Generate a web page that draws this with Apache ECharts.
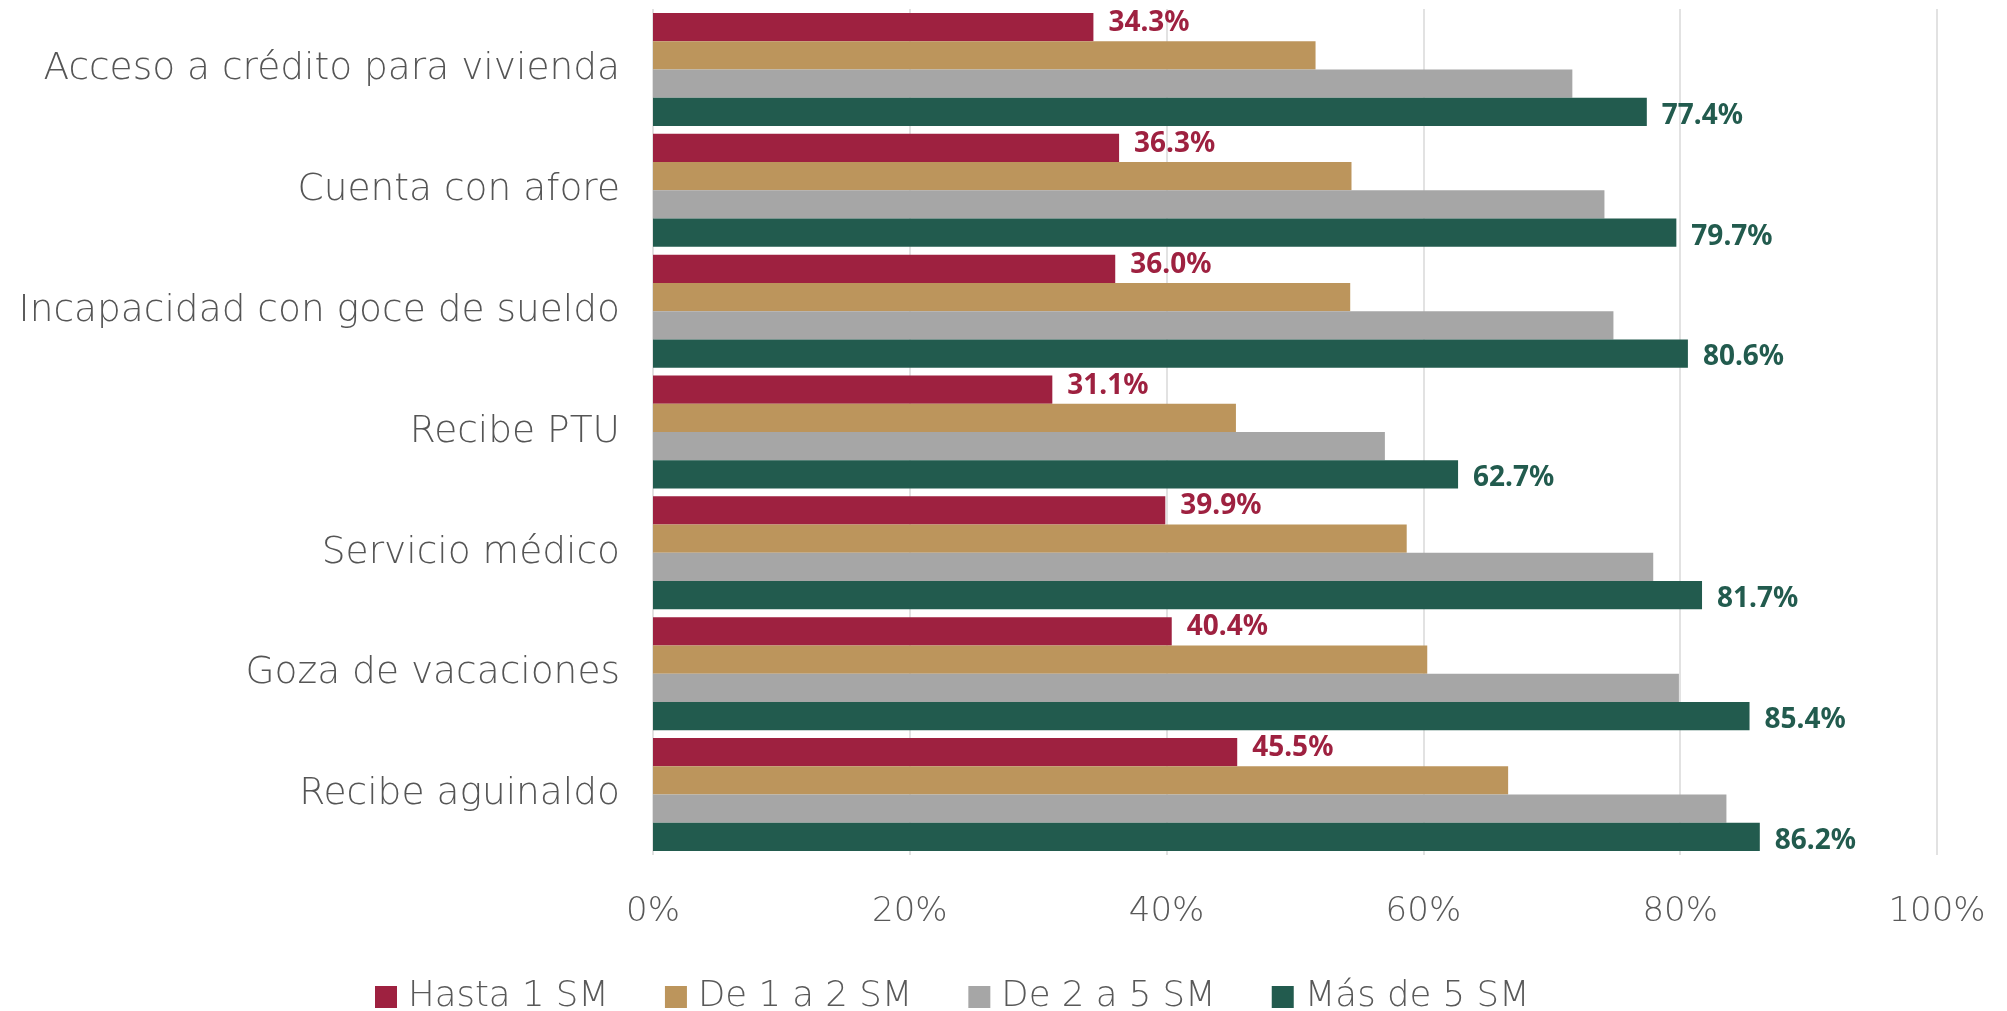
<!DOCTYPE html>
<html>
<head>
<meta charset="utf-8">
<script src="https://cdn.jsdelivr.net/npm/echarts@6/dist/echarts.min.js"></script>
<style>
html, body { margin: 0; padding: 0; background: #ffffff; }
#main { width: 2007px; height: 1011px; }
</style>
</head>
<body>
<div id="main"></div>
<script>
// categories, top to bottom
let categories = ['Acceso a crédito para vivienda', 'Cuenta con afore', 'Incapacidad con goce de sueldo', 'Recibe PTU', 'Servicio médico', 'Goza de vacaciones', 'Recibe aguinaldo']
let seriesNames = ['Hasta 1 SM', 'De 1 a 2 SM', 'De 2 a 5 SM', 'Más de 5 SM']
let hasta1 = [34.3, 36.3, 36.0, 31.1, 39.9, 40.4, 45.5]
let de1a2 = [51.6, 54.4, 54.3, 45.4, 58.7, 60.3, 66.6]
let de2a5 = [71.6, 74.1, 74.8, 57.0, 77.9, 79.9, 83.6]
let mas5 = [77.4, 79.7, 80.6, 62.7, 81.7, 85.4, 86.2]
let xTicks = [0, 20, 40, 60, 80, 100]

let myColor = ['#9E2140', '#BC955C', '#A6A6A6', '#225B4E']
let values = [hasta1, de1a2, de2a5, mas5]
let labelled = [true, false, false, true]
let labelOffset = [[0, -4], [0, 0], [0, 0], [0, 4]]

let font = '"DejaVu Sans", sans-serif'
let boldFont = '"Noto Sans", sans-serif'

let series = seriesNames.map(function (name, i) {
    return {
        name: name,
        type: 'bar',
        data: values[i],
        barGap: '0%',
        barCategoryGap: '6.5%',
        itemStyle: { color: myColor[i] },
        label: {
            show: labelled[i],
            position: 'right',
            distance: 15,
            offset: labelOffset[i],
            formatter: function (p) { return p.value.toFixed(1) + '%' },
            color: myColor[i],
            fontFamily: boldFont,
            fontWeight: 'bold',
            fontSize: 28,
        },
    }
})

let option = {
    backgroundColor: '#ffffff',
    animation: false,
    grid: {
        left: 653,
        right: 70,
        top: 9,
        bottom: 156,
    },
    legend: {
        data: seriesNames,
        left: 370,
        top: 974,
        icon: 'rect',
        itemWidth: 22,
        itemHeight: 22,
        itemGap: 56,
        textStyle: {
            fontFamily: font,
            fontSize: 35.5,
            fontWeight: 300,
            color: '#595959',
            padding: [0, 0, 0, 6],
        },
    },
    xAxis: {
        type: 'value',
        min: xTicks[0],
        max: xTicks[xTicks.length - 1],
        interval: xTicks[1] - xTicks[0],
        axisLine: { show: false },
        axisTick: { show: false },
        splitLine: { show: true, lineStyle: { color: '#D9D9D9', width: 1.5 } },
        axisLabel: {
            formatter: '{value}%',
            margin: 40,
            fontFamily: font,
            fontSize: 34,
            fontWeight: 300,
            color: '#595959',
        },
    },
    yAxis: {
        type: 'category',
        data: categories,
        inverse: true,
        axisLine: { show: false },
        axisTick: { show: false },
        splitLine: { show: false },
        axisLabel: {
            margin: 33,
            fontFamily: font,
            fontSize: 37.5,
            fontWeight: 300,
            color: '#555555',
        },
    },
    series: series,
}

let myChart = echarts.init(document.getElementById('main'))
myChart.setOption(option)
</script>
</body>
</html>
